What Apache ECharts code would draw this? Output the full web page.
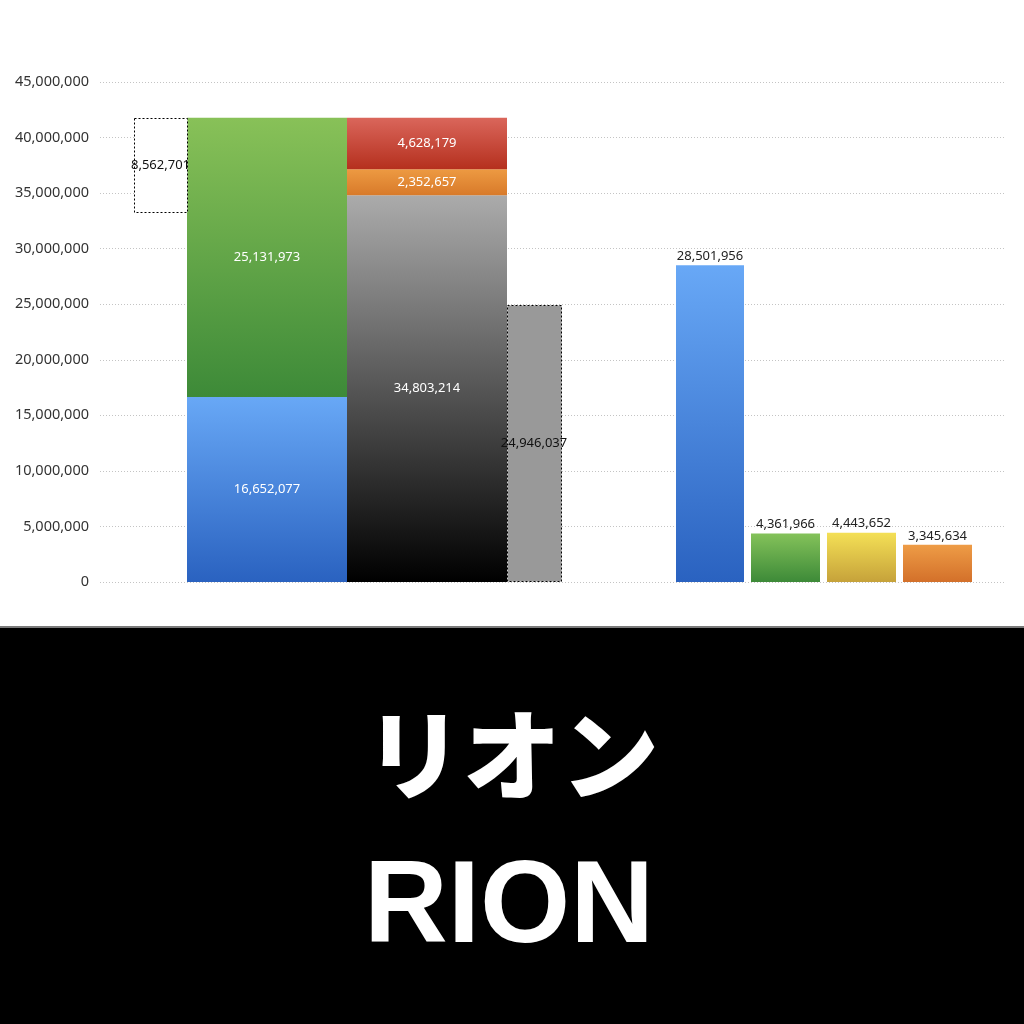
<!DOCTYPE html>
<html><head><meta charset="utf-8">
<script src="https://cdn.jsdelivr.net/npm/echarts@6/dist/echarts.min.js"></script>
<style>html,body{margin:0;padding:0;background:#fff}#c{width:1024px;height:1024px}</style>
</head><body><div id="c"></div>
<script>
// ---- data ----
const yMax = 45000000;
const yInterval = 5000000;
const assetValues = [16652077, 25131973];          // blue, green
const capitalValues = [34803214, 2352657, 4628179]; // black, orange, red
const gapValue = 8562701;                           // dashed white box
const grayValue = 24946037;                         // dashed gray bar
const plValues = [28501956, 4361966, 4443652, 3345634];
const titleJa = 'リオン';
const titleEn = 'RION';

// ---- layout (x extents in axis units) ----
const X = {
  gap: [34, 87], asset: [87, 247], cap: [247, 407], gray: [407, 461],
  pl: [[576, 644], [651, 720], [727, 796], [803, 872]]
};

function grad(t, b) {
  return new echarts.graphic.LinearGradient(0, 0, 0, 1, [{offset: 0, color: t}, {offset: 1, color: b}]);
}
const fmt = v => v.toLocaleString('en-US');

const items = [];
// asset stack
const assetFills = [grad('#68a8f6', '#2a62c0'), grad('#88c158', '#3d8a38')];
let base = 0;
assetValues.forEach((v, i) => {
  items.push({x: X.asset, y0: base, y1: base + v, fill: assetFills[i], label: fmt(v), lc: '#fff', pos: 'in', shadow: true});
  base += v;
});
const totalAssets = base;
// capital stack
const capFills = [grad('#ababab', '#000000'), grad('#ed9a42', '#d87a2a'), grad('#da665b', '#b5301e')];
base = 0;
capitalValues.forEach((v, i) => {
  items.push({x: X.cap, y0: base, y1: base + v, fill: capFills[i], label: fmt(v), lc: '#fff', pos: 'in', shadow: true});
  base += v;
});
// dashed gap box hanging from top of assets
items.push({x: X.gap, y0: totalAssets - gapValue, y1: totalAssets, fill: '#fff', dashed: true, label: fmt(gapValue), lc: '#111', pos: 'in'});
// gray dashed bar
items.push({x: X.gray, y0: 0, y1: grayValue, fill: '#999999', dashed: true, label: fmt(grayValue), lc: '#111', pos: 'in'});
// P/L bars
const plFills = [grad('#68a8f6', '#2a62c0'), grad('#84c25a', '#3d8a38'), grad('#f4e056', '#c6a23a'), grad('#ee9c46', '#d3702a')];
plValues.forEach((v, i) => {
  items.push({x: X.pl[i], y0: 0, y1: v, fill: plFills[i], label: fmt(v), lc: '#222', pos: 'top'});
});

const chart = echarts.init(document.getElementById('c'), null, {renderer: 'canvas'});
chart.setOption({
  backgroundColor: '#fff',
  animation: false,
  grid: {left: 100, right: 19, top: 82, bottom: 442},
  xAxis: {type: 'value', min: 0, max: 905, show: false},
  yAxis: {
    type: 'value', min: 0, max: yMax, interval: yInterval,
    axisLine: {show: false}, axisTick: {show: false},
    axisLabel: {color: '#333', fontSize: 14.5, margin: 11, fontFamily: 'Noto Sans', formatter: fmt},
    splitLine: {lineStyle: {type: [1, 2], color: '#c4c4c4', width: 1}}
  },
  series: [{
    type: 'custom',
    data: items.map(it => [it.x[0], it.x[1], it.y0, it.y1]),
    renderItem: function (params, api) {
      const it = items[params.dataIndex];
      const p0 = api.coord([api.value(0), api.value(3)]);
      const p1 = api.coord([api.value(1), api.value(2)]);
      const r = {x: p0[0], y: p0[1], width: p1[0] - p0[0], height: p1[1] - p0[1]};
      const children = [];
      if (it.dashed) {
        children.push({type: 'rect', shape: {x: Math.round(r.x) + 0.5, y: Math.round(r.y) + 0.5, width: Math.round(r.width), height: Math.round(r.height) - 1},
          style: {fill: it.fill, stroke: '#000', lineWidth: 1, lineDash: [2, 2]}, z2: 5});
      } else {
        children.push({type: 'rect', shape: r, style: {fill: it.fill}});
      }
      const tx = r.x + r.width / 2;
      const ty = it.pos === 'top' ? r.y - 9 : r.y + r.height / 2;
      const ts = {text: it.label, x: tx, y: ty, align: 'center', verticalAlign: 'middle', fill: it.lc,
        fontSize: 13, fontFamily: 'Noto Sans'};
      if (it.shadow) { ts.shadowColor = 'rgba(0,0,0,0.75)'; ts.shadowBlur = 2; ts.shadowOffsetY = 1; }
      children.push({type: 'text', style: ts, z2: 20});
      return {type: 'group', children: children};
    }
  }],
  graphic: [
    {type: 'rect', left: 0, top: 626, shape: {width: 1024, height: 2}, style: {fill: '#7a7a7a'}},
    {type: 'rect', left: 0, top: 628, shape: {width: 1024, height: 396}, style: {fill: '#000'}},
    {type: 'text', x: 512, y: 755, style: {text: titleJa, fill: '#fff', align: 'center', verticalAlign: 'middle',
      fontSize: 98, fontWeight: 900, fontFamily: '"Noto Sans CJK JP"'}},
    {type: 'text', x: 509, y: 910, style: {text: titleEn, fill: '#fff', align: 'center', verticalAlign: 'middle',
      fontSize: 116, fontWeight: 'bold', fontFamily: '"Liberation Sans", Arial'}}
  ]
});
</script></body></html>
